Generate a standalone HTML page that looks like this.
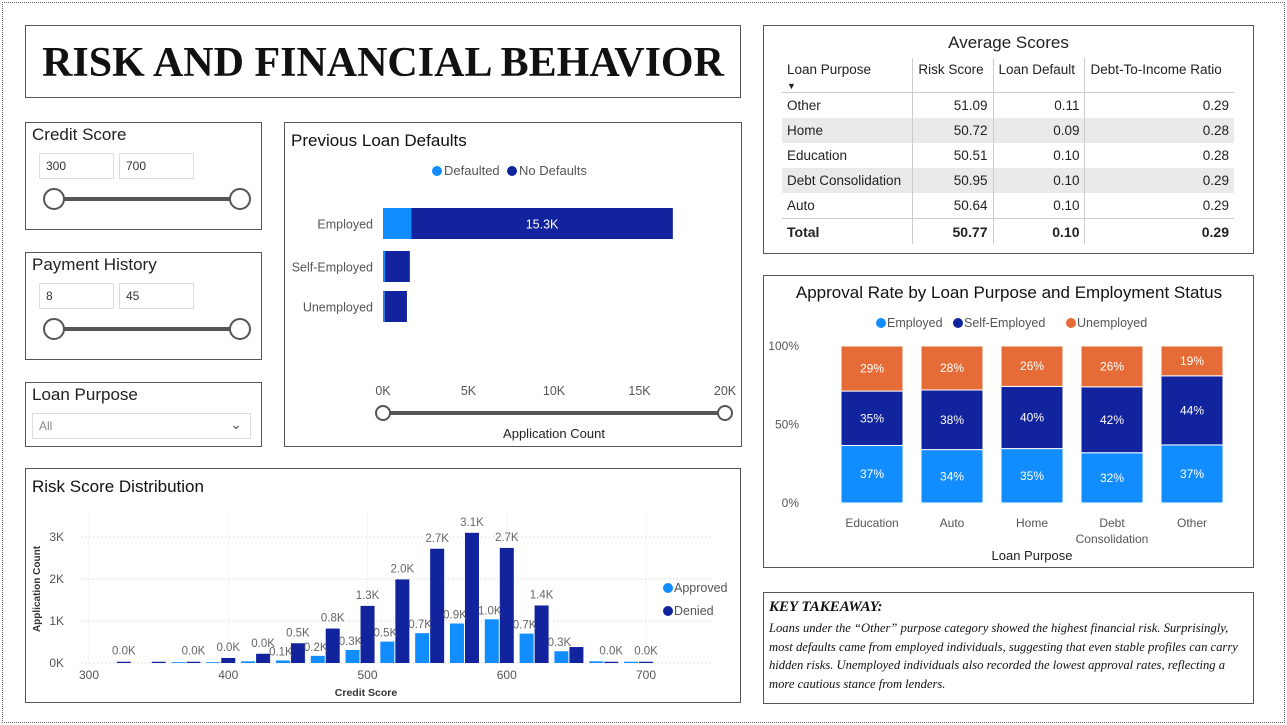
<!DOCTYPE html>
<html><head><meta charset="utf-8">
<style>
body{margin:0;width:1287px;height:725px;background:#fff;font-family:"Liberation Sans",sans-serif;position:relative;overflow:hidden}
.abs{position:absolute}
.box{position:absolute;border:1.5px solid #555;background:#fff;box-sizing:border-box}
.t{position:absolute;font-size:17px;color:#222}
.inp{position:absolute;border:1px solid #ddd;font-size:12px;color:#333;padding:5px 6px;box-sizing:border-box;height:26px}
.trk{position:absolute;height:4px;background:#555}
.knob{position:absolute;width:22px;height:22px;border:2px solid #555;border-radius:50%;background:#fff;box-sizing:border-box}
table{border-collapse:collapse;font-size:13.5px;color:#222}
td,th{padding:0 5px;height:25px}
svg text{font-family:"Liberation Sans",sans-serif}
</style></head><body>
<div class="abs" style="left:2px;top:2px;width:1281px;height:719px;border:1px dotted #666"></div>

<div class="box" style="left:25px;top:25px;width:716px;height:73px">
<div style="position:absolute;left:0;right:0;top:13px;text-align:center;font-family:'Liberation Serif',serif;font-weight:bold;font-size:42px;color:#111">RISK AND FINANCIAL BEHAVIOR</div></div>

<div class="box" style="left:25px;top:122px;width:237px;height:108px">
<div class="t" style="left:6px;top:2px">Credit Score</div>
<div class="inp" style="left:13px;top:30px;width:75px">300</div>
<div class="inp" style="left:93px;top:30px;width:75px">700</div>
<div class="trk" style="left:28px;top:74px;width:190px"></div>
<div class="knob" style="left:17px;top:65px"></div>
<div class="knob" style="left:203px;top:65px"></div></div>

<div class="box" style="left:25px;top:252px;width:237px;height:108px">
<div class="t" style="left:6px;top:2px">Payment History</div>
<div class="inp" style="left:13px;top:30px;width:75px">8</div>
<div class="inp" style="left:93px;top:30px;width:75px">45</div>
<div class="trk" style="left:28px;top:74px;width:190px"></div>
<div class="knob" style="left:17px;top:65px"></div>
<div class="knob" style="left:203px;top:65px"></div></div>

<div class="box" style="left:25px;top:382px;width:237px;height:65px">
<div class="t" style="left:6px;top:2px">Loan Purpose</div>
<div class="inp" style="left:6px;top:30px;width:219px;color:#888">All<span style="position:absolute;right:8px;top:2px;font-size:14px;color:#555">&#8964;</span></div></div>

<div class="box" style="left:284px;top:122px;width:458px;height:325px">
<svg width="458" height="325" id="bsvg"></svg></div>

<div class="box" style="left:25px;top:468px;width:716px;height:235px">
<svg width="716" height="235" id="hsvg"></svg></div>

<div class="box" style="left:763px;top:25px;width:491px;height:229px">
<div style="position:absolute;left:0;right:0;top:7px;text-align:center;font-size:17px;color:#222">Average Scores</div>
<table style="position:absolute;left:18px;top:32px;width:452px">
<tr style="border-bottom:1px solid #ccc;height:30px"><th style="text-align:left;font-weight:normal;border-right:1px solid #ccc;vertical-align:top;padding-top:4px">Loan Purpose<br><span style="font-size:9px">&#9660;</span></th><th style="text-align:left;font-weight:normal;border-right:1px solid #ccc;vertical-align:top;padding-top:4px">Risk Score</th><th style="text-align:left;font-weight:normal;border-right:1px solid #ccc;vertical-align:top;padding-top:4px">Loan Default</th><th style="text-align:left;font-weight:normal;vertical-align:top;padding-top:4px">Debt-To-Income Ratio</th></tr>
<tr><td style="border-right:1px solid #ccc">Other</td><td style="text-align:right;border-right:1px solid #ccc">51.09</td><td style="text-align:right;border-right:1px solid #ccc">0.11</td><td style="text-align:right">0.29</td></tr>
<tr style="background:#eaeaea"><td style="border-right:1px solid #ccc">Home</td><td style="text-align:right;border-right:1px solid #ccc">50.72</td><td style="text-align:right;border-right:1px solid #ccc">0.09</td><td style="text-align:right">0.28</td></tr>
<tr><td style="border-right:1px solid #ccc">Education</td><td style="text-align:right;border-right:1px solid #ccc">50.51</td><td style="text-align:right;border-right:1px solid #ccc">0.10</td><td style="text-align:right">0.28</td></tr>
<tr style="background:#eaeaea"><td style="border-right:1px solid #ccc">Debt Consolidation</td><td style="text-align:right;border-right:1px solid #ccc">50.95</td><td style="text-align:right;border-right:1px solid #ccc">0.10</td><td style="text-align:right">0.29</td></tr>
<tr style="border-bottom:1px solid #ccc"><td style="border-right:1px solid #ccc">Auto</td><td style="text-align:right;border-right:1px solid #ccc">50.64</td><td style="text-align:right;border-right:1px solid #ccc">0.10</td><td style="text-align:right">0.29</td></tr>
<tr style="font-weight:bold;font-size:14px"><td style="border-right:1px solid #ccc">Total</td><td style="text-align:right;border-right:1px solid #ccc">50.77</td><td style="text-align:right;border-right:1px solid #ccc">0.10</td><td style="text-align:right">0.29</td></tr>
</table></div>

<div class="box" style="left:763px;top:275px;width:491px;height:293px">
<svg width="491" height="293" id="ssvg"></svg></div>

<div class="box" style="left:763px;top:592px;width:491px;height:112px;font-family:'Liberation Serif',serif;font-style:italic;color:#111">
<div style="position:absolute;left:5px;top:6px;font-weight:bold;font-size:15px">KEY TAKEAWAY:</div>
<div style="position:absolute;left:5px;top:26px;right:6px;font-size:12.6px;line-height:18.5px">Loans under the “Other” purpose category showed the highest financial risk. Surprisingly, most defaults came from employed individuals, suggesting that even stable profiles can carry hidden risks. Unemployed individuals also recorded the lowest approval rates, reflecting a more cautious stance from lenders.</div></div>

<script>
const NS='http://www.w3.org/2000/svg';
function mk(p,tag,a,txt){const e=document.createElementNS(NS,tag);for(const k in a)e.setAttribute(k,a[k]);if(txt!==undefined)e.textContent=txt;p.appendChild(e);return e;}
const L='#118DFF',D='#12239E',O='#E66C37';

// ---------- Previous Loan Defaults ----------
const empCats=['Employed','Self-Employed','Unemployed'];
const defaulted=[1.65,0.12,0.1];
const noDefaults=[15.3,1.45,1.3];
const barTicks=[0,5,10,15,20];
{
const s=document.getElementById('bsvg');
mk(s,'text',{x:6,y:23,'font-size':17,fill:'#111'},'Previous Loan Defaults');
const lg=[['Defaulted',L,152],['No Defaults',D,227]];
lg.forEach(([n,c,x])=>{const g=mk(s,'g',{});mk(g,'circle',{cx:x,cy:48,r:5,fill:c});mk(g,'text',{x:x+7,y:52,'font-size':13,fill:'#555'},n);});
const X=v=>98+v*(440-98)/20;
const rowY=[85,128,168],bh=31;
empCats.forEach((c,i)=>{
 mk(s,'text',{x:88,y:rowY[i]+bh/2+5,'font-size':12.5,fill:'#555','text-anchor':'end'},c);
 const r1=mk(s,'rect',{x:X(0),y:rowY[i],width:X(defaulted[i])-X(0),height:bh,fill:L});
 
 
 const r2=mk(s,'rect',{x:X(defaulted[i]),y:rowY[i],width:X(defaulted[i]+noDefaults[i])-X(defaulted[i]),height:bh,fill:D});
 
 
 if(i===0) mk(s,'text',{x:(X(defaulted[i])+X(defaulted[i]+noDefaults[i]))/2,y:rowY[i]+bh/2+5,'font-size':12.5,fill:'#fff','text-anchor':'middle'},noDefaults[i].toFixed(1)+'K');
});
barTicks.forEach(t=>mk(s,'text',{x:X(t),y:272,'font-size':12.5,fill:'#555','text-anchor':'middle'},t+'K'));
mk(s,'rect',{x:X(0),y:288,width:X(20)-X(0),height:4,fill:'#555'});
const k1=mk(s,'circle',{cx:X(0),cy:290,r:7,fill:'#fff',stroke:'#555','stroke-width':2});

const k2=mk(s,'circle',{cx:X(20),cy:290,r:7,fill:'#fff',stroke:'#555','stroke-width':2});

mk(s,'text',{x:269,y:315,'font-size':13,fill:'#222','text-anchor':'middle'},'Application Count');
}

// ---------- Risk Score Distribution ----------
const bins=[320,345,370,395,420,445,470,495,520,545,570,595,620,645,670,695];
const approved=[0.0,0.0,0.02,0.02,0.04,0.06,0.17,0.31,0.51,0.71,0.94,1.04,0.70,0.28,0.04,0.03];
const denied=[0.03,0.03,0.03,0.12,0.22,0.47,0.82,1.36,1.99,2.72,3.10,2.74,1.37,0.38,0.03,0.03];
const apprLabels=['','','','','','0.1K','0.2K','0.3K','0.5K','0.7K','0.9K','1.0K','0.7K','0.3K','',''];
const denLabels=['0.0K','','0.0K','0.0K','0.0K','0.5K','0.8K','1.3K','2.0K','2.7K','3.1K','2.7K','1.4K','','0.0K','0.0K'];
const xTicks=[300,400,500,600,700];
const yTicks=[0,1,2,3];
{
const s=document.getElementById('hsvg');
mk(s,'text',{x:6,y:23,'font-size':17,fill:'#111'},'Risk Score Distribution');
const X=v=>63+(v-300)*(620-63)/400;
const Y=v=>194-v*42;
yTicks.forEach(t=>{mk(s,'line',{x1:55,x2:685,y1:Y(t),y2:Y(t),stroke:'#ccc','stroke-dasharray':'1 3'});mk(s,'text',{x:38,y:Y(t)+4,'font-size':12,fill:'#555','text-anchor':'end'},t+'K');});
xTicks.forEach(t=>{mk(s,'line',{x1:X(t),x2:X(t),y1:45,y2:194,stroke:'#ddd','stroke-dasharray':'1 3'});mk(s,'text',{x:X(t),y:210,'font-size':12,fill:'#555','text-anchor':'middle'},t);});
bins.forEach((b,i)=>{
 const c=X(b);
 const ra=mk(s,'rect',{x:c-15,y:Y(approved[i]),width:14,height:Y(0)-Y(approved[i]),fill:L});
 
 
 const rd=mk(s,'rect',{x:c,y:Y(denied[i]),width:14,height:Y(0)-Y(denied[i]),fill:D});
 
 
 if(apprLabels[i])mk(s,'text',{x:c-10,y:Y(approved[i])-5,'font-size':11.5,fill:'#666','text-anchor':'middle'},apprLabels[i]);
 if(denLabels[i])mk(s,'text',{x:c+7,y:Y(denied[i])-7,'font-size':11.5,fill:'#666','text-anchor':'middle'},denLabels[i]);
});
mk(s,'text',{x:0,y:0,'font-size':10,fill:'#333','font-weight':'bold','text-anchor':'middle',transform:'translate(14,120) rotate(-90)'},'Application Count');
mk(s,'text',{x:340,y:227,'font-size':10.5,fill:'#333','font-weight':'bold','text-anchor':'middle'},'Credit Score');
[['Approved',L,119],['Denied',D,142]].forEach(([n,c,y])=>{const g=mk(s,'g',{});mk(g,'circle',{cx:642,cy:y,r:5,fill:c});mk(g,'text',{x:648,y:y+4,'font-size':12.5,fill:'#555'},n);});
}

// ---------- Approval Rate stacked ----------
const purposes=['Education','Auto','Home','Debt Consolidation','Other'];
const pctEmployed=[37,34,35,32,37];
const pctSelf=[35,38,40,42,44];
const pctUnemp=[29,28,26,26,19];
const pctTicks=[0,50,100];
{
const s=document.getElementById('ssvg');
mk(s,'text',{x:245,y:22,'font-size':17,fill:'#111','text-anchor':'middle'},'Approval Rate by Loan Purpose and Employment Status');
[['Employed',L,117],['Self-Employed',D,194],['Unemployed',O,307]].forEach(([n,c,x])=>{const g=mk(s,'g',{});mk(g,'circle',{cx:x,cy:47,r:5,fill:c});mk(g,'text',{x:x+6,y:51,'font-size':12.5,fill:'#555'},n);});
const Y=v=>227-v*(227-70)/100;
pctTicks.forEach(t=>mk(s,'text',{x:35,y:Y(t)+4,'font-size':12,fill:'#555','text-anchor':'end'},t+'%'));
purposes.forEach((p,i)=>{
 const cx=108+i*80,w=62;
 const tot=pctEmployed[i]+pctSelf[i]+pctUnemp[i];
 const segs=[[pctEmployed[i],L,'employed'],[pctSelf[i],D,'self-employed'],[pctUnemp[i],O,'unemployed']];
 let acc=0;
 segs.forEach(([v,c,n])=>{
  const y0=Y(acc/tot*100),y1=Y((acc+v)/tot*100);
  const r=mk(s,'rect',{x:cx-w/2,y:y1,width:w,height:y0-y1,fill:c,stroke:'#fff','stroke-width':1});
  
  
  mk(s,'text',{x:cx,y:(y0+y1)/2+4,'font-size':12,fill:'#fff','text-anchor':'middle'},v+'%');
  acc+=v;
 });
 const parts=p.split(' ');
 parts.forEach((q,j)=>mk(s,'text',{x:cx,y:251+j*16,'font-size':12,fill:'#555','text-anchor':'middle'},q));
});
mk(s,'text',{x:268,y:284,'font-size':13,fill:'#222','text-anchor':'middle'},'Loan Purpose');
}
</script>
</body></html>
